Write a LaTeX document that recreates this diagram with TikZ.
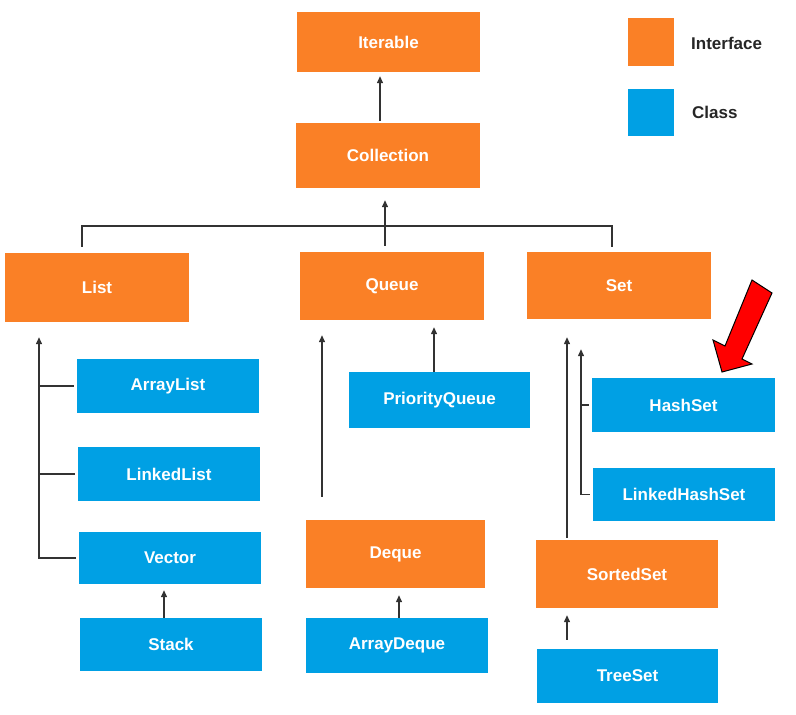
\documentclass[tikz,border=0pt]{standalone}
\usepackage{fontspec}
\setmainfont{Liberation Sans}
\usetikzlibrary{arrows.meta}
\definecolor{ifc}{RGB}{250,128,38}
\definecolor{cls}{RGB}{0,160,228}
\definecolor{ln}{RGB}{50,50,50}
\tikzset{
  box/.style={inner sep=0pt, font=\fontsize{17}{20}\selectfont\bfseries, text=white},
  ibox/.style={box, fill=ifc},
  cbox/.style={box, fill=cls},
  link/.style={draw=ln, line width=1.3pt},
  arr/.style={link, -{Triangle[length=7pt,width=6pt]}},
  legtext/.style={font=\fontsize{17}{20}\selectfont\bfseries, text=black!85, anchor=west, inner sep=0pt}
}
\begin{document}
\begin{tikzpicture}[x=1pt,y=-1pt]
\useasboundingbox (0,0) rectangle (796,715);
% nodes
\node[ibox, minimum width=183pt, minimum height=60pt] (Iterable) at (388.5,42) {Iterable};
\node[ibox, minimum width=184pt, minimum height=65pt] (Collection) at (388,155.5) {Collection};
\node[ibox, minimum width=184pt, minimum height=69pt] (List) at (97,287.5) {List};
\node[ibox, minimum width=184pt, minimum height=68pt] (Queue) at (392,286) {Queue};
\node[ibox, minimum width=184pt, minimum height=67pt] (Set) at (619,285.5) {Set};
\node[cbox, minimum width=182pt, minimum height=54pt] (ArrayList) at (168,386) {ArrayList};
\node[cbox, minimum width=182pt, minimum height=54pt] (LinkedList) at (169,474) {LinkedList};
\node[cbox, minimum width=182pt, minimum height=52pt] (Vector) at (170,558) {Vector};
\node[cbox, minimum width=182pt, minimum height=53pt] (Stack) at (171,644.5) {Stack};
\node[cbox, minimum width=181pt, minimum height=56pt] (PriorityQueue) at (439.5,400) {PriorityQueue};
\node[ibox, minimum width=179pt, minimum height=68pt] (Deque) at (395.5,554) {Deque};
\node[cbox, minimum width=182pt, minimum height=55pt] (ArrayDeque) at (397,645.5) {ArrayDeque};
\node[cbox, minimum width=183pt, minimum height=54pt] (HashSet) at (683.5,405) {HashSet};
\node[cbox, minimum width=182pt, minimum height=53pt] (LinkedHashSet) at (684,494.5) {LinkedHashSet};
\node[ibox, minimum width=182pt, minimum height=68pt] (SortedSet) at (627,574) {SortedSet};
\node[cbox, minimum width=181pt, minimum height=54pt] (TreeSet) at (627.5,676) {TreeSet};
% legend
\node[fill=ifc, inner sep=0pt, minimum width=46pt, minimum height=48pt] (legI) at (651,42) {};
\node[fill=cls, inner sep=0pt, minimum width=46pt, minimum height=47pt] (legC) at (651,112.5) {};
\node[legtext] (legIt) at (691,43) {Interface};
\node[legtext] (legCt) at (692,112) {Class};
% helper coordinates
\coordinate (bus) at (385,226);
\coordinate (cx) at (380,0);
\coordinate (lv) at (39,0);
\coordinate (vx) at (164,0);
\coordinate (qv) at (322,0);
\coordinate (qx) at (434,0);
\coordinate (dx) at (399,0);
\coordinate (sv) at (567,0);
\coordinate (sx) at (581,0);
% connectors
\draw[arr, shorten <=2pt, shorten >=4pt] (Collection.north -| cx) -- (Iterable.south -| cx);
\draw[link] ([shift={(-15,-6)}]List.north) |- (bus) -| ([shift={(-7,-5)}]Set.north);
\draw[link] (bus) -- ([shift={(-7,-6)}]Queue.north);
\draw[arr, shorten >=12pt] (bus) -- (Collection.south -| bus);
% List
\draw[arr, shorten >=15pt] ([xshift=-3pt]Vector.west) -| (List.south -| lv);
\draw[link] ([xshift=-3pt]ArrayList.west) -- (ArrayList.west -| lv);
\draw[link] ([xshift=-3pt]LinkedList.west) -- (LinkedList.west -| lv);
\draw[arr, shorten >=6pt] (Stack.north -| vx) -- (Vector.south -| vx);
% Queue
\draw[arr, shorten <=23pt, shorten >=15pt] (Deque.north -| qv) -- (Queue.south -| qv);
\draw[arr, shorten >=7pt] (PriorityQueue.north -| qx) -- (Queue.south -| qx);
\draw[arr, shorten >=7pt] (ArrayDeque.north -| dx) -- (Deque.south -| dx);
% Set
\draw[arr, shorten <=2pt, shorten >=18pt] (SortedSet.north -| sv) -- (Set.south -| sv);
\draw[arr, shorten >=30pt] ([xshift=-3pt]LinkedHashSet.west) -| (Set.south -| sx);
\draw[link] ([xshift=-3pt]HashSet.west) -- (HashSet.west -| sx);
\draw[arr, shorten <=9pt, shorten >=7pt] (TreeSet.north -| sv) -- (SortedSet.south -| sv);
% red pointer
\draw[fill=red, draw=black, line width=1pt, line join=miter]
  (752,280) -- (772,293) -- (742,359) -- (752,364) -- (722,372) -- (713,340) -- (725,346) -- cycle;
\end{tikzpicture}
\end{document}
